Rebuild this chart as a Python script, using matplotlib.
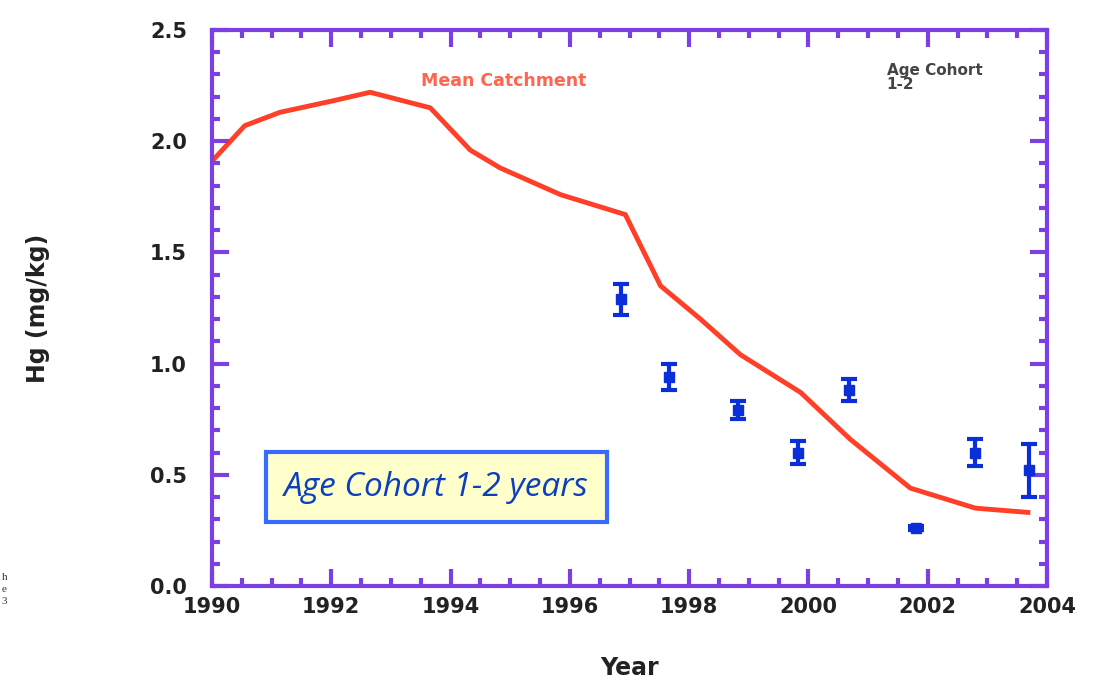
import matplotlib
matplotlib.use("Agg")
import matplotlib.pyplot as plt
from matplotlib.ticker import MultipleLocator

# Data
curve_years = [1990.0, 1990.55, 1991.14, 1992.0, 1992.65, 1993.66, 1994.33, 1994.83,
               1995.84, 1996.93, 1997.52, 1998.19, 1998.86, 1999.87, 2000.7,
               2001.71, 2002.8, 2003.72]
curve_hg = [1.91, 2.07, 2.13, 2.18, 2.22, 2.15, 1.96, 1.88,
            1.76, 1.67, 1.35, 1.20, 1.04, 0.87, 0.66,
            0.44, 0.35, 0.33]

obs_years = [1996.85, 1997.66, 1998.82, 1999.82, 2000.68, 2001.8, 2002.8, 2003.69]
obs_hg = [1.29, 0.94, 0.79, 0.60, 0.88, 0.26, 0.60, 0.52]
obs_err = [0.07, 0.06, 0.04, 0.05, 0.05, 0.01, 0.06, 0.12]

x_ticks = [1990, 1992, 1994, 1996, 1998, 2000, 2002, 2004]
y_ticks = [0.0, 0.5, 1.0, 1.5, 2.0, 2.5]

purple = "#7B3FE4"

fig = plt.figure(figsize=(10.95, 6.81), dpi=100)
ax = fig.add_axes([212/1095, 95/681, (1047-212)/1095, (586-30)/681])

ax.plot(curve_years, curve_hg, color="#FF2A10", lw=3.5, alpha=0.9, solid_capstyle="butt")
ax.errorbar(obs_years, obs_hg, yerr=obs_err, fmt="s", color="#0A2FD8", ms=7,
            ecolor="#0A2FD8", elinewidth=3, capsize=6, capthick=3)

ax.set_xlim(1990, 2004)
ax.set_ylim(0, 2.5)
ax.set_xticks(x_ticks)
ax.set_yticks(y_ticks)
ax.set_xticklabels([str(t) for t in x_ticks])
ax.set_yticklabels([f"{t:.1f}" for t in y_ticks])
ax.xaxis.set_minor_locator(MultipleLocator(0.5))
ax.yaxis.set_minor_locator(MultipleLocator(0.1))

for s in ax.spines.values():
    s.set_color(purple)
    s.set_linewidth(3)
ax.tick_params(which="both", direction="in", top=True, right=True, color=purple, width=3)
ax.tick_params(which="major", length=12, labelsize=15, labelcolor="#222222")
ax.tick_params(axis="x", which="major", pad=8)
ax.tick_params(axis="y", which="major", pad=18)
ax.tick_params(which="minor", length=6)
for lab in ax.get_xticklabels() + ax.get_yticklabels():
    lab.set_fontweight("bold")

ax.set_xlabel("Year", fontsize=17, fontweight="bold", color="#222222", labelpad=28)
ax.set_ylabel("Hg (mg/kg)", fontsize=17, fontweight="bold", color="#222222", labelpad=72)

ax.text(0.25, 0.9, "Mean Catchment", transform=ax.transAxes, color="#FF4A30",
        fontsize=12.5, fontweight="bold", alpha=0.85)
ax.text(0.808, 0.915, "Age Cohort\n1-2", transform=ax.transAxes, color="#444444",
        fontsize=11, fontweight="bold", ha="left", va="center", linespacing=0.9)

ax.text(0.269, 0.178, "Age Cohort 1-2 years", transform=ax.transAxes,
        fontsize=24, fontstyle="italic", family="Open Sans", color="#0B3FC0",
        ha="center", va="center",
        bbox=dict(boxstyle="square,pad=0.55", facecolor="#FFFFCC", edgecolor="#3A6BFF", linewidth=3))

for yy, s in [(577, "h"), (590, "e"), (602, "3")]:
    fig.text(2/1095, 1 - yy/681, s, fontsize=8, family="Liberation Serif", color="#333333", va="center")

fig.savefig("out.png", dpi=100)
